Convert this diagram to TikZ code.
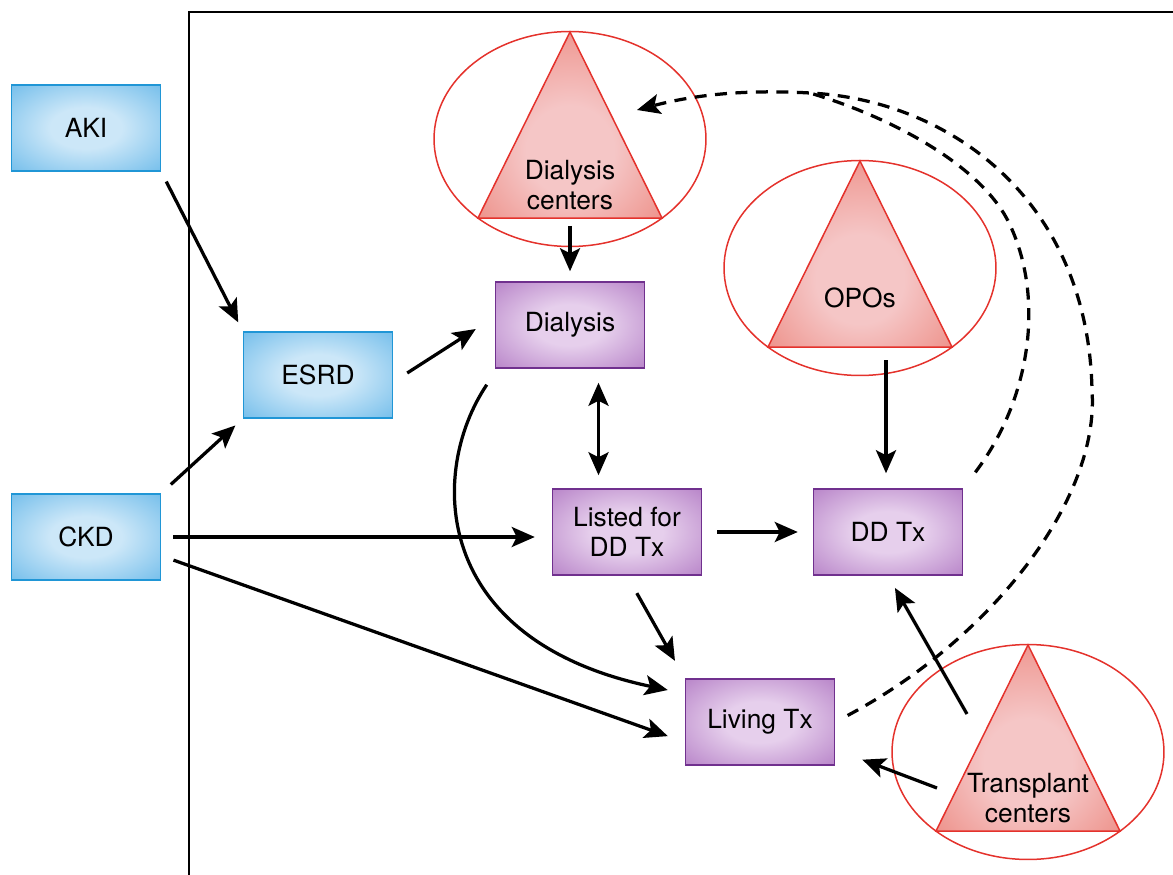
\documentclass[tikz,border=0pt]{standalone}
\usepackage{fontspec}
\setmainfont{TeX Gyre Heros}
\usetikzlibrary{shapes.geometric,arrows.meta,calc}

\definecolor{aquain}{RGB}{204,231,248}
\definecolor{aquaout}{RGB}{90,178,231}
\definecolor{aquarim}{RGB}{32,150,214}
\definecolor{plumin}{RGB}{230,207,236}
\definecolor{plumout}{RGB}{170,110,190}
\definecolor{plumrim}{RGB}{112,48,142}
\definecolor{rosein}{RGB}{245,198,198}
\definecolor{roseout}{RGB}{233,112,100}
\definecolor{roserim}{RGB}{228,50,44}

\pgfdeclareradialshading{aquaglow}{\pgfpoint{0bp}{0bp}}{color(0bp)=(aquain); color(12bp)=(aquain); color(43bp)=(aquaout); color(72bp)=(aquaout)}
\pgfdeclareradialshading{plumglow}{\pgfpoint{0bp}{0bp}}{color(0bp)=(plumin); color(12bp)=(plumin); color(43bp)=(plumout); color(72bp)=(plumout)}
\pgfdeclareradialshading{roseglow}{\pgfpoint{0bp}{-8bp}}{color(0bp)=(rosein); color(12bp)=(rosein); color(46bp)=(roseout); color(80bp)=(roseout)}

\begin{document}
\begin{tikzpicture}
[x=0.02cm,y=-0.02cm,
 cause/.style={draw=aquarim,line width=0.03cm,shading=aquaglow,minimum width=2.98cm,minimum height=1.72cm,align=center},
 stage/.style={draw=plumrim,line width=0.03cm,shading=plumglow,minimum width=2.98cm,minimum height=1.72cm,align=center},
 ring/.style={draw=roserim,line width=0.03cm,ellipse,inner sep=0pt,minimum width=5.44cm,minimum height=4.3cm},
 site/.style={draw=roserim,line width=0.03cm,shading=roseglow},
 sitetext/.style={align=center},
 arr/.style={line width=0.065cm,-{Stealth[length=0.46cm,width=0.4cm,inset=0.1cm]}},
 biarr/.style={line width=0.065cm,{Stealth[length=0.46cm,width=0.4cm,inset=0.1cm]}-{Stealth[length=0.46cm,width=0.4cm,inset=0.1cm]}},
 link/.style={line width=0.065cm,dash pattern=on 0.24cm off 0.17cm},
 axisline/.style={line width=0.03cm}]
\fontsize{15}{17}\selectfont
\useasboundingbox (0,0) rectangle (1173,875);
\draw[axisline] (189,875) -- (189,12) -- (1173,12);

% facilities
\node[ring] (dcring) at (570,139) {};
\node[ring] (oporing) at (860,268) {};
\node[ring] (tcring) at (1028,752) {};
\foreach \s in {dc,opo,tc}
  \shade[site] ($(\s ring.center)+(0,-107)$) -- ($(\s ring.center)+(92,79)$)
    -- ($(\s ring.center)+(-92,79)$) -- cycle;
\node[sitetext] (dctext) at ($(dcring.center)+(0,46)$) {Dialysis\\centers};
\node[sitetext] (opotext) at ($(oporing.center)+(0,30)$) {OPOs};
\node[sitetext] (tctext) at ($(tcring.center)+(0,46)$) {Transplant\\centers};

% patients
\node[cause] (aki) at (86,128) {AKI};
\node[cause] (esrd) at (318,375) {ESRD};
\node[cause] (ckd) at (86,537) {CKD};
\node[stage] (dialysis) at (570,325) {Dialysis};
\node[stage] (listed) at (627,532) {Listed for\\DD Tx};
\node[stage] (ddtx) at (888,532) {DD Tx};
\node[stage] (living) at (760,722) {Living Tx};

% flows
\draw[arr,shorten <=0.22cm,shorten >=0.2cm] (aki.south east) -- (esrd.north west);
\draw[arr,shorten <=0.26cm,shorten >=0.2cm] (ckd.north east) -- (esrd.south west);
\draw[arr] ($(esrd.east)+(14,-2)$) -- ($(dialysis.west)+(-19,4)$);
\draw[arr,shorten <=0.16cm,shorten >=0.2cm] ($(dcring.center)+(0,79)$) -- (dialysis.north);
\coordinate (mid) at ($(dialysis.south)!0.5!(listed.north)$);
\draw[biarr,shorten <=0.28cm,shorten >=0.26cm] (mid |- dialysis.south) -- (mid |- listed.north);
\draw[arr,shorten <=0.24cm,shorten >=0.34cm] (ckd.east) -- (ckd.east -| listed.west);
\draw[arr,shorten <=0.3cm,shorten >=0.3cm] (listed.east) -- (ddtx.west);
\coordinate (opofoot) at ($(oporing.center)+(26,92)$);
\draw[arr,shorten >=0.3cm] (opofoot) -- (opofoot |- ddtx.north);
\draw[arr,shorten <=0.26cm,shorten >=0.36cm] (ckd.-14) -- (living.195);
\draw[arr,shorten <=0.4cm,shorten >=0.4cm] (listed.south) -- (living.north west);
\draw[arr] ($(dialysis.south west)+(-8,16)$) .. controls +(-58,86) and +(-238,-50) .. ($(living.west)+(-17,-32)$);
\draw[arr,shorten >=0.28cm] ($(tcring.center)+(-61,-38)$) -- (ddtx.south);
\draw[arr,shorten >=0.58cm] ($(tcring.center)+(-91,36)$) -- (living.-20);

% feedback to dialysis centers
\coordinate (merge) at (810,93);
\draw[link,-{Stealth[length=0.46cm,width=0.4cm,inset=0.1cm]},shorten <=0.28cm] (living.east)
  .. controls (990,640) and (1100,500) .. (1092,390)
  .. controls (1088,200) and (950,100) .. (merge)
  .. controls (740,89) and (690,96) .. ($(dcring.center)+(67,-29)$);
\draw[link,shorten <=0.4cm] (ddtx.north east)
  .. controls (1030,400) and (1045,300) .. (1010,225)
  .. controls (985,170) and (900,120) .. (merge);
\end{tikzpicture}
\end{document}
